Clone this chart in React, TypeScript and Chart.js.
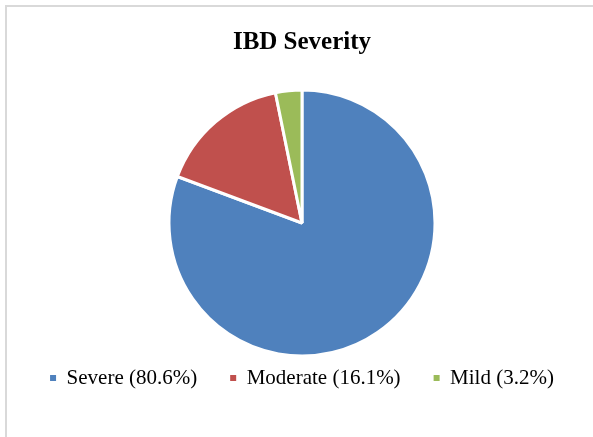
import React, { useEffect, useRef } from "react";
import { Chart, registerables } from "chart.js";

Chart.register(...registerables);

const categories = ["Severe (80.6%)", "Moderate (16.1%)", "Mild (3.2%)"];
const values = [80.6, 16.1, 3.2];
const colors = ["#4F81BD", "#C0504D", "#9BBB59"];
const titleText = "IBD Severity";

export default function App() {
  const ref = useRef<HTMLCanvasElement | null>(null);

  useEffect(() => {
    document.body.style.margin = "0";
    const canvas = ref.current;
    if (!canvas) return;
    const defaultGen = (Chart as any).overrides.pie.plugins.legend.labels.generateLabels;
    const chart = new Chart(canvas, {
      type: "pie",
      data: {
        labels: categories,
        datasets: [
          {
            data: values,
            backgroundColor: colors,
            borderColor: "#ffffff",
            borderWidth: 3,
          },
        ],
      },
      options: {
        responsive: false,
        animation: false,
        radius: 133,
        layout: { padding: { left: 11, right: 0, top: 0, bottom: 38.5 } },
        plugins: {
          tooltip: { enabled: false },
          title: {
            display: true,
            text: titleText,
            color: "#000000",
            font: { family: "'Liberation Serif', 'Times New Roman', serif", size: 25, weight: "bold", lineHeight: 1.2 },
            padding: { top: 27.6, bottom: 53.9 },
          },
          legend: {
            display: true,
            position: "bottom",
            labels: {
              color: "#000000",
              boxWidth: 6,
              boxHeight: 6,
              padding: 33,
              font: { family: "'Liberation Serif', 'Times New Roman', serif", size: 21 },
              generateLabels: (c: any) =>
                defaultGen(c).map((item: any) => ({ ...item, lineWidth: 0, strokeStyle: "rgba(0,0,0,0)" })),
            },
          },
        },
      } as any,
    });
    return () => chart.destroy();
  }, []);

  return (
    <div style={{ position: "relative", width: 593, height: 437, overflow: "hidden", background: "#ffffff" }}>
      <div
        style={{
          position: "absolute",
          left: 5,
          top: 5,
          width: 800,
          height: 800,
          borderLeft: "2px solid #d9d9d9",
          borderTop: "2px solid #d9d9d9",
        }}
      />
      <canvas ref={ref} width={593} height={437} style={{ position: "absolute", left: 0, top: 0 }} />
    </div>
  );
}
